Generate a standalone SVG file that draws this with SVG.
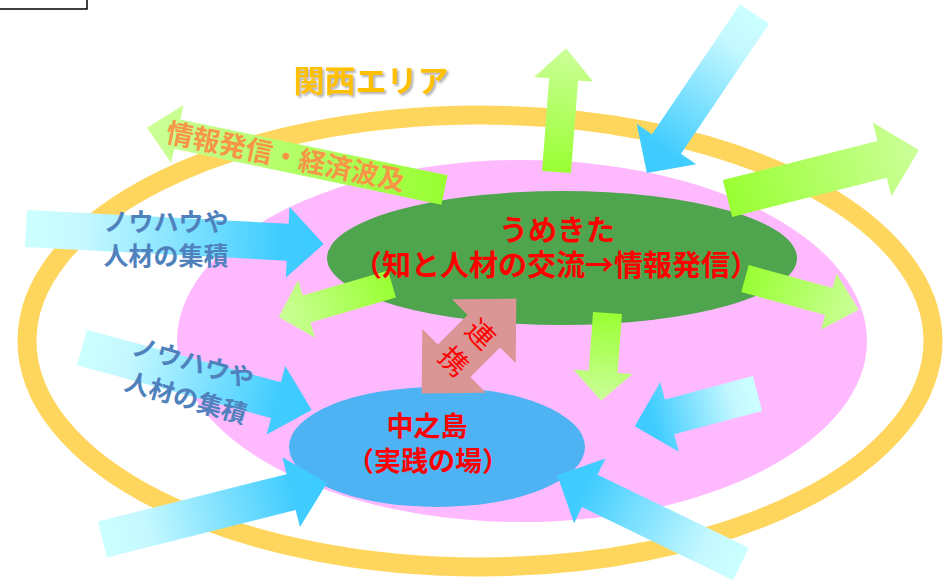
<svg xmlns="http://www.w3.org/2000/svg" width="948" height="581" viewBox="0 0 948 581">
<style>
text{font-family:"Noto Sans CJK JP","Noto Sans",sans-serif;}
.b{font-weight:700;}
.red{fill:#FF0000;}
.know{fill:#4F81BD;font-weight:700;font-size:25px;}
.ga{fill:url(#gGreen);}
.ba{fill:url(#gBlue);}
</style>
<defs>
<linearGradient id="gGreen" x1="0" y1="0" x2="1" y2="0">
<stop offset="0" stop-color="#99FF33"/>
<stop offset="1" stop-color="#CCFF99"/>
</linearGradient>
<linearGradient id="gBlue" x1="0" y1="0" x2="1" y2="0">
<stop offset="0" stop-color="#CCFFFF"/>
<stop offset="0.2" stop-color="#C4F8FF"/>
<stop offset="0.85" stop-color="#40CCFF"/>
<stop offset="1" stop-color="#3DCBFF"/>
</linearGradient>
<filter id="sh" x="-10%" y="-20%" width="130%" height="160%">
<feDropShadow dx="2" dy="2" stdDeviation="1.2" flood-color="#7F7F7F" flood-opacity="0.6"/>
</filter>
</defs>

<rect id="corner-box" x="-5" y="-5" width="92" height="14" fill="#FFFFFF" stroke="#000000" stroke-width="1.5"/>

<g id="kansai-area">
<ellipse cx="480" cy="341" rx="453" ry="226" fill="none" stroke="#FED65E" stroke-width="19"/>
<text x="371" y="92" class="b" font-size="31" fill="#FFC000" text-anchor="middle" filter="url(#sh)">関西エリア</text>
</g>

<g id="inner-zone">
<ellipse cx="522" cy="341" rx="345" ry="181" fill="#FFB9FF"/>
</g>

<g id="umekita">
<ellipse cx="562" cy="258" rx="235" ry="67" fill="#4EA54E"/>
</g>

<g id="nakanoshima">
<ellipse cx="437" cy="447" rx="148" ry="60" fill="#4DB3F2"/>
</g>

<g id="connectors">
<polygon class="ga" points="0,-15 273,-15 273,-29.5 304,0 273,29.5 273,15 0,15" transform="translate(444.5,190) rotate(191.8)"/>
<polygon class="ba" points="0,-18.5 262,-18.5 262,-35.5 298,0 262,35.5 262,18.5 0,18.5" transform="translate(26,228.5) rotate(3)"/>
<polygon class="ba" points="0,-18.5 201,-18.5 201,-35.5 238,0 201,35.5 201,18.5 0,18.5" transform="translate(82,347.5) rotate(15.2)"/>
<polygon class="ba" points="0,-18.5 194.5,-18.5 194.5,-36 231.5,0 194.5,36 194.5,18.5 0,18.5" transform="translate(102.5,539.5) rotate(-14.1)"/>
<polygon class="ba" points="0,-18 168,-18 168,-36 204,0 168,36 168,18 0,18" transform="translate(741,564) rotate(205.8)"/>
<polygon class="ba" points="0,-18 91,-18 91,-36 127,0 91,36 91,18 0,18" transform="translate(757.5,393.5) rotate(165.1)"/>
<polygon class="ba" points="0,-17.5 157,-17.5 157,-36 192,0 157,36 157,17.5 0,17.5" transform="translate(754.5,14) rotate(124.1)"/>
<polygon class="ga" points="0,-14.5 93,-14.5 93,-29.5 124,0 93,29.5 93,14.5 0,14.5" transform="translate(556.5,172) rotate(-85.6)"/>
<polygon class="ga" points="0,-19 159.5,-19 159.5,-38 197.5,0 159.5,38 159.5,19 0,19" transform="translate(727.5,198.5) rotate(-14.2)"/>
<polygon class="ga" points="0,-14 89,-14 89,-30 118,0 89,30 89,14 0,14" transform="translate(392,284) rotate(163.7)"/>
<polygon class="ga" points="0,-14 87,-14 87,-29 118,0 87,29 87,14 0,14" transform="translate(745,278.5) rotate(15.4)"/>
<polygon class="ga" points="0,-14.5 59,-14.5 59,-29.5 88,0 59,29.5 59,14.5 0,14.5" transform="translate(607.5,313) rotate(94.2)"/>
<polygon fill="#D99694" points="-67,0 -21,-45 -21,-23 21,-23 21,-45 67,0 21,45 21,23 -21,23 -21,45" transform="translate(469,346) rotate(-45)"/>
</g>

<g id="labels">
<text class="b" font-size="27" fill="#F79646" text-anchor="middle" dominant-baseline="central" transform="translate(286,155) rotate(11.7)">情報発信・経済波及</text>
<text class="know" text-anchor="middle"><tspan x="166" y="231">ノウハウや</tspan><tspan x="166" y="265">人材の集積</tspan></text>
<text class="know" text-anchor="middle" dominant-baseline="central" transform="translate(188.5,378) rotate(16)"><tspan x="0" y="-18">ノウハウや</tspan><tspan x="3" y="18">人材の集積</tspan></text>
<text class="b red" font-size="29" text-anchor="middle"><tspan x="557" y="241">うめきた</tspan><tspan x="556" y="276">（知と人材の交流→情報発信）</tspan></text>
<text class="b red" font-size="27" text-anchor="middle"><tspan x="427" y="436">中之島</tspan><tspan x="428" y="471">（実践の場）</tspan></text>
<text class="red" font-size="28" text-anchor="middle" dominant-baseline="central" transform="translate(482,333) rotate(45)">連</text>
<text class="red" font-size="28" text-anchor="middle" dominant-baseline="central" transform="translate(455,360) rotate(45)">携</text>
</g>
</svg>
